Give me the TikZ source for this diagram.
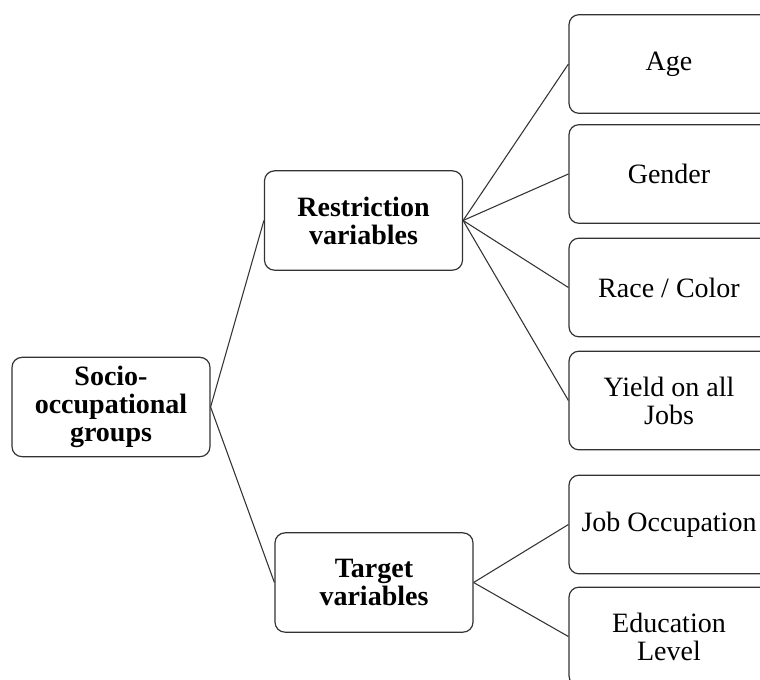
\documentclass[tikz,border=0pt]{standalone}
\usepackage{fontspec}
\setmainfont{Liberation Serif}
\usetikzlibrary{positioning}

\begin{document}
\begin{tikzpicture}[
  x=0.75pt, y=-0.75pt,
  every node/.style={font=\fontsize{21}{21}\selectfont},
  groupbox/.style={draw=black!80,line width=0.9pt,rounded corners=7.5pt,
                   minimum width=148.5pt,minimum height=74.5pt,
                   align=center,inner sep=2pt,font=\fontsize{21}{21}\selectfont\bfseries},
  varbox/.style={draw=black!80,line width=0.9pt,rounded corners=7.5pt,
                 minimum width=150pt,minimum height=74pt,
                 align=center,inner sep=2pt},
  link/.style={black!80,line width=0.8pt},
]
  \useasboundingbox (0,0) rectangle (760,679);
  \clip (0,0) rectangle (760,679);

  % root
  \node[groupbox] (socio) at (111,407) {Socio-\\occupational\\groups};

  % variable groups
  \node[groupbox] (restr) at (363.5,220.5) {Restriction\\variables};
  \node[groupbox] (target) at (374,582.5) {Target\\variables};

  % restriction variables
  \node[varbox] (age) at (669,64) {Age};
  \node[varbox] (gender) at (669,174) {Gender};
  \node[varbox] (race) at (669,287.5) {Race / Color};
  \node[varbox] (yield) at (669,400.5) {Yield on all\\Jobs};

  % target variables
  \node[varbox] (job) at (669,524.5) {Job Occupation};
  \node[varbox] (edu) at (669,636.5) {Education\\Level};

  % Connectors
  \draw[link] (socio.east) -- (restr.west);
  \draw[link] (socio.east) -- (target.west);
  \draw[link] (restr.east) -- (age.west);
  \draw[link] (restr.east) -- (gender.west);
  \draw[link] (restr.east) -- (race.west);
  \draw[link] (restr.east) -- (yield.west);
  \draw[link] (target.east) -- (job.west);
  \draw[link] (target.east) -- (edu.west);
\end{tikzpicture}
\end{document}
